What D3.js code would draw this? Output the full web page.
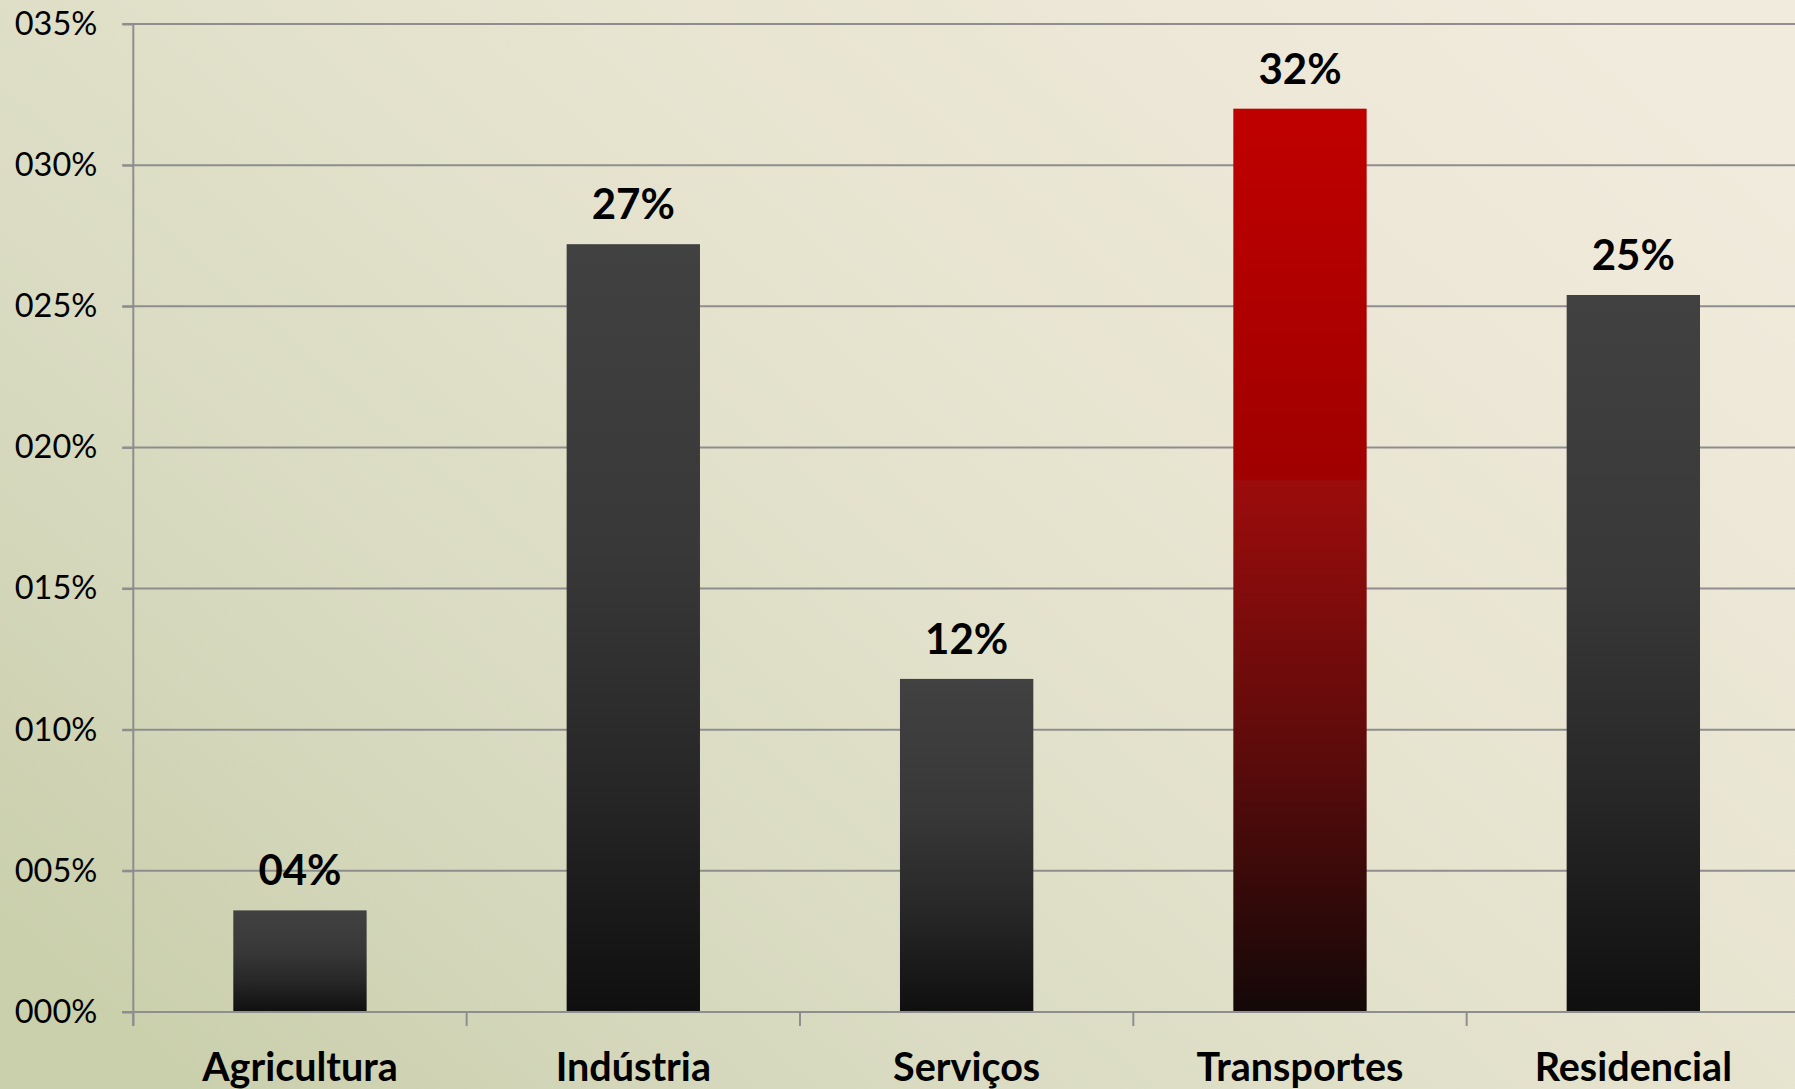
<!DOCTYPE html>
<html>
<head>
<meta charset="utf-8">
<script src="https://cdn.jsdelivr.net/npm/d3@7"></script>
<style>
  html, body { margin: 0; padding: 0; overflow: hidden; background: #e6e3cf; }
  svg { display: block; }
</style>
</head>
<body>
<svg id="chart" width="1795" height="1089"></svg>
<script>
// ---- data ----
const categories = ["Agricultura", "Indústria", "Serviços", "Transportes", "Residencial"];
const values = [0.036, 0.272, 0.118, 0.320, 0.254];
const valueLabels = ["04%", "27%", "12%", "32%", "25%"];
const tickValues = [0, 0.05, 0.10, 0.15, 0.20, 0.25, 0.30, 0.35];
const tickLabels = ["000%", "005%", "010%", "015%", "020%", "025%", "030%", "035%"];
const highlighted = "Transportes";

// ---- layout ----
const W = 1795, H = 1089;
const svg = d3.select("#chart");
const defs = svg.append("defs");

// background gradient
const bg = defs.append("linearGradient").attr("id", "bg")
  .attr("x1", 0).attr("y1", 0.85).attr("x2", 1).attr("y2", 0.15);
[[0, "#cacfac"], [0.25, "#d8dac0"], [0.55, "#e5e3ce"], [0.8, "#ece7d6"], [1, "#f1ebdd"]]
  .forEach(([o, c]) => bg.append("stop").attr("offset", o).attr("stop-color", c));
svg.append("rect").attr("width", W).attr("height", H).attr("fill", "url(#bg)");

// bar gradients
const gDark = defs.append("linearGradient").attr("id", "gDark")
  .attr("x1", 0).attr("y1", 0).attr("x2", 0).attr("y2", 1);
[[0, "#414141"], [0.4, "#383838"], [0.7, "#272727"], [1, "#0f0f0f"]]
  .forEach(([o, c]) => gDark.append("stop").attr("offset", o).attr("stop-color", c));

const gRed = defs.append("linearGradient").attr("id", "gRed")
  .attr("x1", 0).attr("y1", 0).attr("x2", 0).attr("y2", 1);
[[0, "#c00000"], [0.41, "#a00000"], [0.412, "#9c0c0c"], [0.7, "#600b0b"], [1, "#140808"]]
  .forEach(([o, c]) => gRed.append("stop").attr("offset", o).attr("stop-color", c));

const axisLeftX = 133.3;
const plotRight = 1800;
const y = d3.scaleLinear().domain([0, 0.35]).range([1012, 24]);
const x = d3.scaleBand().domain(categories).range([axisLeftX, plotRight])
  .paddingInner(0.6).paddingOuter(0.3);
const step = x.step();

const gridColor = "#8e8e8e";

// gridlines
svg.append("g").selectAll("line").data(tickValues).join("line")
  .attr("x1", axisLeftX - 11).attr("x2", W)
  .attr("y1", d => y(d)).attr("y2", d => y(d))
  .attr("stroke", gridColor).attr("stroke-width", 2);

// y axis
const yAxis = svg.append("g").attr("transform", `translate(${axisLeftX},0)`)
  .call(d3.axisLeft(y).tickValues(tickValues)
    .tickFormat((d, i) => tickLabels[i]).tickSize(11).tickPadding(25));
yAxis.select(".domain").attr("stroke", gridColor).attr("stroke-width", 2)
  .attr("d", `M0,${y(0.35)}V${y(0) + 14}`);
yAxis.selectAll(".tick line").attr("stroke", gridColor).attr("stroke-width", 2);
yAxis.selectAll(".tick text")
  .attr("font-family", "Lato, 'Open Sans', sans-serif")
  .attr("font-size", 32.5).attr("fill", "#000");

// x axis category boundary ticks
const boundaries = d3.range(categories.length + 1).map(i => axisLeftX + i * step);
svg.append("g").selectAll("line").data(boundaries).join("line")
  .attr("x1", d => d).attr("x2", d => d)
  .attr("y1", y(0)).attr("y2", y(0) + 14)
  .attr("stroke", gridColor).attr("stroke-width", 2);

// bars
svg.append("g").selectAll("rect").data(categories).join("rect")
  .attr("x", d => x(d))
  .attr("width", x.bandwidth())
  .attr("y", (d, i) => y(values[i]))
  .attr("height", (d, i) => y(0) - y(values[i]))
  .attr("fill", d => d === highlighted ? "url(#gRed)" : "url(#gDark)");

// x-axis baseline over bars
svg.append("line").attr("x1", axisLeftX - 11).attr("x2", W)
  .attr("y1", y(0)).attr("y2", y(0)).attr("stroke", gridColor).attr("stroke-width", 2);

// value labels
svg.append("g").selectAll("text").data(categories).join("text")
  .attr("x", d => x(d) + x.bandwidth() / 2)
  .attr("y", (d, i) => y(values[i]) - 25)
  .attr("text-anchor", "middle")
  .attr("font-family", "Lato, 'Open Sans', sans-serif")
  .attr("font-weight", "bold").attr("font-size", 42).attr("fill", "#000")
  .text((d, i) => valueLabels[i]);

// category labels
svg.append("g").selectAll("text").data(categories).join("text")
  .attr("x", d => x(d) + x.bandwidth() / 2)
  .attr("y", 1081)
  .attr("text-anchor", "middle")
  .attr("font-family", "Lato, 'Open Sans', sans-serif")
  .attr("font-weight", "bold").attr("font-size", 39.5).attr("fill", "#000")
  .text(d => d);
</script>
</body>
</html>
